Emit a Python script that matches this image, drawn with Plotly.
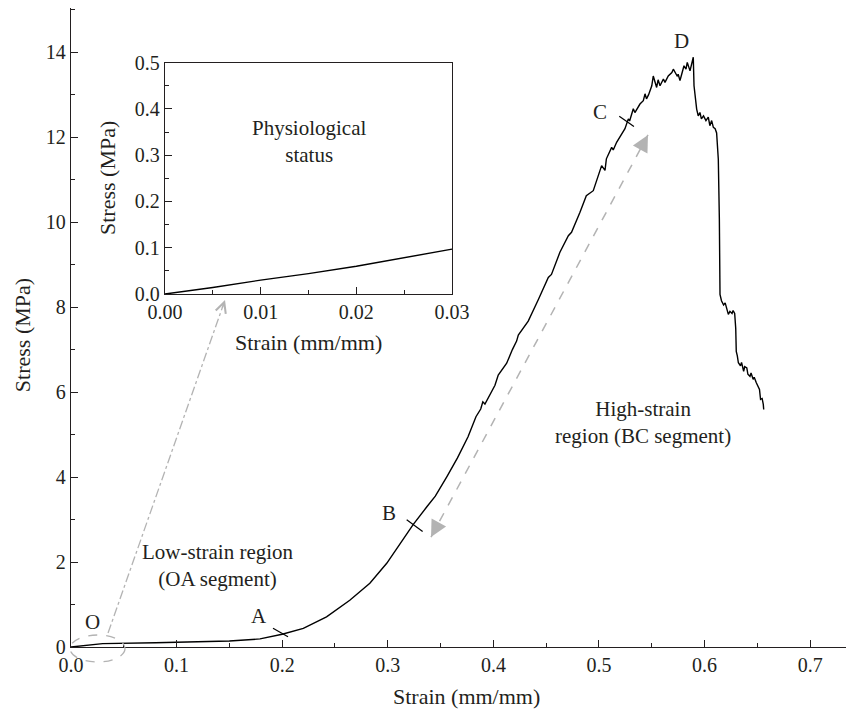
import plotly.graph_objects as go

# ---------------- data ----------------
strain = [0.000, 0.030, 0.080, 0.120, 0.150, 0.179, 0.200, 0.220, 0.242, 0.264,
          0.283, 0.299, 0.312, 0.324, 0.337, 0.345, 0.356, 0.366, 0.376, 0.3835,
          0.388, 0.390, 0.392, 0.395, 0.4015, 0.4046, 0.4126, 0.418, 0.422, 0.4236,
          0.433, 0.4426, 0.452, 0.455, 0.463, 0.471, 0.474, 0.482, 0.488, 0.4946,
          0.4994, 0.5025, 0.5057, 0.507, 0.512, 0.5135, 0.5167, 0.5246, 0.5278, 0.529,
          0.5325, 0.534, 0.5388, 0.542, 0.5436, 0.545, 0.547, 0.550, 0.5514, 0.553,
          0.5546, 0.556, 0.5578, 0.561, 0.5625, 0.5656, 0.569, 0.5704, 0.574, 0.575,
          0.5767, 0.578, 0.5805, 0.5824, 0.5836, 0.5862, 0.5878, 0.5893, 0.590, 0.5918,
          0.5925, 0.594, 0.5956, 0.597, 0.599, 0.6013, 0.6035, 0.605, 0.6067, 0.6083,
          0.610, 0.6114, 0.613, 0.614, 0.6146, 0.616, 0.618, 0.6195, 0.621, 0.6225,
          0.624, 0.626, 0.627, 0.6285, 0.6295, 0.630, 0.631, 0.632, 0.634, 0.635,
          0.637, 0.638, 0.640, 0.641, 0.643, 0.644, 0.646, 0.647, 0.649, 0.650,
          0.652, 0.653, 0.6545, 0.6556, 0.656]
stress = [0.00, 0.08, 0.10, 0.12, 0.14, 0.19, 0.30, 0.44, 0.71, 1.10,
          1.50, 1.97, 2.45, 2.88, 3.30, 3.55, 4.01, 4.45, 4.95, 5.42,
          5.60, 5.77, 5.72, 5.85, 6.16, 6.40, 6.68, 7.00, 7.20, 7.34,
          7.67, 8.18, 8.70, 8.77, 9.29, 9.68, 9.76, 10.23, 10.62, 10.74,
          11.09, 11.33, 11.22, 11.49, 11.76, 11.70, 11.88, 12.20, 12.43, 12.38,
          12.67, 12.58, 12.78, 12.86, 13.02, 12.90, 13.00, 13.21, 13.44, 13.30,
          13.17, 13.35, 13.21, 13.37, 13.29, 13.44, 13.52, 13.60, 13.44, 13.48,
          13.33, 13.45, 13.68, 13.60, 13.76, 13.56, 13.75, 13.88, 13.21, 12.74,
          12.66, 12.50, 12.58, 12.43, 12.50, 12.39, 12.47, 12.27, 12.39, 12.23,
          12.20, 12.10, 11.48, 10.07, 8.30, 8.15, 8.05, 8.10, 7.95, 7.83,
          7.90, 7.85, 7.92, 7.85, 7.50, 6.96, 6.85, 6.69, 6.62, 6.70,
          6.49, 6.60, 6.57, 6.42, 6.37, 6.45, 6.30, 6.35, 6.22, 6.15,
          6.06, 5.83, 5.85, 5.71, 5.59]

inset_strain = [0.000, 0.005, 0.010, 0.015, 0.020, 0.025, 0.030]
inset_stress = [0.000, 0.014, 0.030, 0.044, 0.060, 0.078, 0.097]

x_ticks_main = [0.0, 0.1, 0.2, 0.3, 0.4, 0.5, 0.6, 0.7]
y_ticks_main = [0, 2, 4, 6, 8, 10, 12, 14]
x_ticks_inset = [0.00, 0.01, 0.02, 0.03]
y_ticks_inset = [0.0, 0.1, 0.2, 0.3, 0.4, 0.5]

# ---------------- style ----------------
FONT = "Liberation Serif"
TXT = "#231f20"
AX = "#231f20"
GRAY = "#b3b3b3"
FS_TICK = 20
FS_TXT = 21
FS_TITLE = 22

fig = go.Figure()
fig.add_trace(go.Scatter(x=strain, y=stress, mode="lines",
                         line=dict(color="black", width=1.4), showlegend=False,
                         xaxis="x", yaxis="y"))
fig.add_trace(go.Scatter(x=inset_strain, y=inset_stress, mode="lines",
                         line=dict(color="black", width=1.4), showlegend=False,
                         xaxis="x2", yaxis="y2"))

axis_common = dict(showgrid=False, zeroline=False, showline=True, linecolor=AX,
                   linewidth=1.4, ticks="inside", tickcolor=AX, tickwidth=1.2,
                   ticklen=7, automargin=False,
                   tickfont=dict(family=FONT, size=FS_TICK, color=TXT))
minor_common = dict(ticks="inside", ticklen=4, tickcolor=AX, tickwidth=1.2)

# the page adds an 8 px body margin, so the figure is 8 px smaller and shifted
fig.update_layout(
    width=846, height=706,
    margin=dict(l=63, r=0, t=0, b=67, autoexpand=False),
    paper_bgcolor="white", plot_bgcolor="white",
    font=dict(family=FONT, size=FS_TXT, color=TXT),
    xaxis=dict(range=[0, 0.7415], tickvals=x_ticks_main, tickformat=".1f",
               minor=dict(dtick=0.05, tick0=0, **minor_common), **axis_common),
    yaxis=dict(range=[0, 15.04], tickvals=y_ticks_main, tickformat="d",
               minor=dict(dtick=1, tick0=0, **minor_common), **axis_common),
    xaxis2=dict(domain=[0.120, 0.4866], anchor="y2", range=[0, 0.03],
                tickvals=x_ticks_inset, tickformat=".2f", mirror=True,
                minor=dict(dtick=0.005, tick0=0, **minor_common), **axis_common),
    yaxis2=dict(domain=[0.5524, 0.9144], anchor="x2", range=[0, 0.5],
                tickvals=y_ticks_inset, tickformat=".1f", mirror=True,
                minor=dict(dtick=0.05, tick0=0, **minor_common), **axis_common),
)

# axis titles (placed explicitly)
titles = [("Strain (mm/mm)", 0.5045, -0.0782, 0),
          ("Stress (MPa)", -0.0626, 0.488, -90),
          ("Strain (mm/mm)", 0.3027, 0.4773, 0),
          ("Stress (MPa)", 0.0473, 0.734, -90)]
for t, x, y, ang in titles:
    fig.add_annotation(xref="paper", yref="paper", x=x, y=y, text=t, textangle=ang,
                       showarrow=False, xanchor="center", yanchor="middle",
                       font=dict(family=FONT, size=FS_TITLE, color=TXT))

# segment marks on the curve (A, B, C)
for (x0, x1, y0, y1) in [(0.1913, 0.2055, 0.441, 0.243),
                         (0.3179, 0.3330, 2.995, 2.719),
                         (0.5192, 0.5331, 12.49, 12.25)]:
    fig.add_shape(type="line", xref="x", yref="y", x0=x0, x1=x1, y0=y0, y1=y1,
                  line=dict(color="black", width=1.2))

# dashed ellipse around O (paper coords so it is not clipped)
fig.add_shape(type="circle", xref="paper", yref="paper",
              x0=-0.0013, x1=0.069, y0=-0.0235, y1=0.0188,
              line=dict(color=GRAY, width=1.3, dash="dash"))

# dash-dot line from O region to inset
fig.add_shape(type="line", xref="paper", yref="paper",
              x0=0.0473, y0=0.0219, x1=0.1967, y1=0.543,
              line=dict(color=GRAY, width=1.3, dash="dashdot"))
fig.add_annotation(xref="paper", yref="paper", x=0.1967, y=0.543, ax=-3.3, ay=9.4,
                   showarrow=True, arrowhead=5, arrowsize=1.6, arrowwidth=1.3,
                   arrowcolor=GRAY, text="", standoff=0)

# dashed double arrow along BC
fig.add_shape(type="line", xref="paper", yref="paper",
              x0=0.4598, y0=0.1721, x1=0.7369, y1=0.8013,
              line=dict(color=GRAY, width=1.5, dash="dash"))
for (px, py, ax, ay) in [(0.7369, 0.8013, -5.7, 10.6), (0.4598, 0.1721, 5.7, -10.6)]:
    fig.add_annotation(xref="paper", yref="paper", x=px, y=py, ax=ax, ay=ay,
                       showarrow=True, arrowhead=2, arrowsize=2.2, arrowwidth=1.5,
                       arrowcolor=GRAY, text="", standoff=0)

labels = [("O", 0.0208, 0.59), ("A", 0.178, 0.73), ("B", 0.301, 3.16),
          ("C", 0.501, 12.59), ("D", 0.5786, 14.27),
          ("Low-strain region<br>(OA segment)", 0.139, 1.93),
          ("High-strain<br>region (BC segment)", 0.5417, 5.28)]
for t, x, y in labels:
    fig.add_annotation(xref="x", yref="y", x=x, y=y, text=t, showarrow=False,
                       font=dict(family=FONT, size=FS_TXT, color=TXT))

fig.add_annotation(xref="x2", yref="y2", x=0.01505, y=0.3286,
                   text="Physiological<br>status", showarrow=False,
                   font=dict(family=FONT, size=FS_TXT, color=TXT))

fig.write_html("out.html")
